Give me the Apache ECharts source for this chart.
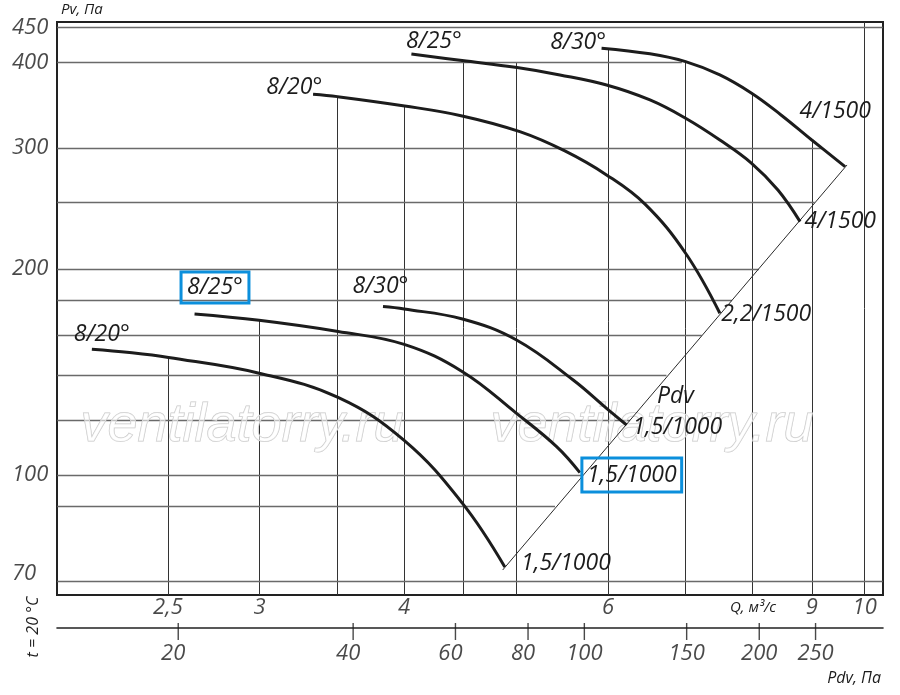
<!DOCTYPE html>
<html>
<head>
<meta charset="utf-8">
<title>Pv-Q</title>
<script src="https://cdn.jsdelivr.net/npm/echarts@6/dist/echarts.min.js"></script>
<style>
  html, body { margin: 0; padding: 0; background: #fff; }
  #chart { width: 900px; height: 695px; }
</style>
</head>
<body>
<div id="chart"></div>
<script>
;(function () {
  'use strict';

  var FONT = '"Open Sans", "Noto Sans", sans-serif';
  var INK = '#1c1c1c';
  var BLUE = '#0b8fdc';

  // axis ranges (Q, м³/с / Pv, Па / Pdv, Па)
  var qMin = 2.005, qMax = 10.37;
  var pMin = 66.8, pMax = 458.4;
  var pdvMin = 12.37, pdvMax = 326.6;

  // tick labels
  var qTicks = [2.5, 3, 4, 6, 9, 10];
  var qTickLabels = ['2,5', '3', '4', '6', '9', '10'];
  var pTicks = [70, 100, 200, 300, 400, 450];
  var pdvTicks = [20, 40, 60, 80, 100, 150, 200, 250];

  // grid lines and where they stop
  var qGrid    = [2.5,   3,     3.5,   4,     4.5,   5,   6,   7,     8,     9,     10];
  var qGridTop = [148.4, 168.2, 356.7, 345.7, 402.7, 400, 419, 401.2, 360.8, 308.3, pMax];
  var pGrid    = [70,   90,  100, 120,  140,  160,  180,  200, 250,  300,  400,  450];
  var pGridEnd = [qMax, 5.4, 5.7, 6.27, 6.74, 7.23, 7.68, 8.1, 9.05, 9.19, 6.95, qMax];

  // lower group, 1,5/1000
  var low20Q = [2.149, 2.316, 2.503, 2.997, 3.507, 4.0, 4.492, 4.887];
  var low20P = [152.6, 150.9, 148.4, 140.8, 129.8, 112.3, 90.9, 73.4];
  var low25Q = [2.636, 2.997, 3.507, 4.0, 4.492, 5.002, 5.417, 5.674];
  var low25P = [171.8, 168.2, 162.0, 155.1, 141.5, 123.0, 110.0, 100.8];
  var low30Q = [3.835, 4.0, 4.492, 5.002, 5.599, 5.983, 6.227];
  var low30P = [176.1, 174.7, 168.9, 157.4, 137.6, 125.1, 118.3];

  // upper group
  var up20Q = [3.337, 3.503, 4.004, 4.489, 5.035, 5.507, 5.983, 6.459, 7.002, 7.496];
  var up20P = [359.6, 356.7, 345.7, 334.3, 317.1, 297.2, 274.2, 248.5, 210.7, 172.2];
  var up25Q = [4.058, 4.489, 5.007, 5.453, 5.983, 6.523, 7.002, 7.496, 7.985, 8.414, 8.793];
  var up25P = [411.5, 402.7, 393.3, 383.7, 370.9, 352.7, 331.7, 308.3, 285.1, 260.6, 234.3];
  var up30Q = [5.924, 6.523, 7.002, 7.496, 7.985, 8.466, 9.0, 9.616];
  var up30P = [419.8, 411.9, 401.2, 383.7, 360.8, 335.4, 308.3, 281.9];

  // Pdv line
  var pdvLineQ = [4.866, 9.654];
  var pdvLineP = [72.65, 283.5];

  function textStyle(size) {
    return { fontFamily: FONT, fontStyle: 'italic', fontSize: size, color: INK };
  }

  function lab(text, dx, dy, align, boxed) {
    var l = {
      show: true,
      formatter: text,
      position: [dx, dy],
      align: align,
      verticalAlign: 'middle',
      fontFamily: FONT,
      fontStyle: 'italic',
      fontSize: 23,
      lineHeight: 27,
      color: INK
    };
    if (boxed) {
      l.borderColor = BLUE;
      l.borderWidth = 3;
      l.padding = boxed;
    }
    return l;
  }

  function curve(qs, ps, first, last) {
    var data = qs.map(function (q, i) {
      var item = { value: [q, ps[i]] };
      if (i === 0 && first) item.label = first;
      if (i === qs.length - 1 && last) item.label = last;
      return item;
    });
    return {
      type: 'line',
      data: data,
      smooth: 0.4,
      symbol: 'circle',
      symbolSize: 1,
      showSymbol: true,
      itemStyle: { color: 'rgba(0,0,0,0)' },
      lineStyle: { color: INK, width: 3 },
      label: { show: false },
      clip: false,
      silent: true,
      z: 10
    };
  }

  var gridLines = [];
  qGrid.forEach(function (q, i) {
    gridLines.push([
      { coord: [q, pMin * 1.0005], lineStyle: { color: '#333', width: 1, type: 'solid' } },
      { coord: [q, Math.min(qGridTop[i], pMax * 0.9995)] }
    ]);
  });
  pGrid.forEach(function (p, i) {
    gridLines.push([
      { coord: [qMin * 1.0005, p], lineStyle: { color: '#6a6a6a', width: 1.3, type: 'solid' } },
      { coord: [Math.min(pGridEnd[i], qMax * 0.9995), p] }
    ]);
  });

  var pdvLine = {
    type: 'line',
    data: pdvLineQ.map(function (q, i) { return [q, pdvLineP[i]]; }),
    showSymbol: false,
    lineStyle: { color: '#2a2a2a', width: 1 },
    silent: true,
    z: 9,
    markLine: {
      silent: true,
      symbol: ['none', 'none'],
      label: { show: false },
      lineStyle: { type: 'solid' },
      emphasis: { disabled: true },
      animation: false,
      z: 5,
      data: gridLines
    }
  };

  var qLabels = {
    type: 'scatter',
    data: qTicks.map(function (q, i) {
      return { value: [q, pMin], label: { formatter: qTickLabels[i] } };
    }),
    symbolSize: 1,
    itemStyle: { color: 'rgba(0,0,0,0)' },
    label: Object.assign({ show: true, position: 'bottom', distance: 1 }, textStyle(22)),
    clip: false,
    silent: true
  };

  var pLabels = {
    type: 'scatter',
    data: pTicks.map(function (p) {
      var item = { value: [qMin, p] };
      if (p === 70) item.label = { offset: [0, -7] };
      return item;
    }),
    symbolSize: 1,
    itemStyle: { color: 'rgba(0,0,0,0)' },
    label: Object.assign({
      show: true,
      position: [-44.5, 0.5],
      align: 'left',
      verticalAlign: 'middle',
      formatter: function (p) { return p.value[1]; }
    }, textStyle(22)),
    clip: false,
    silent: true
  };

  var pdvTickSeries = {
    type: 'scatter',
    xAxisIndex: 1,
    yAxisIndex: 1,
    data: pdvTicks.map(function (v) {
      var item = { value: [v, -3.5] };
      if (v < 100) item.label = { offset: [-5, 0] };
      return item;
    }),
    symbol: 'rect',
    symbolSize: [1.4, 17],
    itemStyle: { color: INK },
    label: Object.assign({
      show: true,
      position: 'bottom',
      distance: 3,
      formatter: function (p) { return p.value[0]; }
    }, textStyle(22)),
    clip: false,
    silent: true
  };

  var option = {
    animation: false,
    backgroundColor: '#fff',
    grid: [
      { left: 57, top: 22, width: 826, height: 573, show: true, borderColor: '#222', borderWidth: 2 },
      { left: 57, top: 620, width: 826, height: 20 }
    ],
    xAxis: [
      {
        type: 'log', gridIndex: 0, min: qMin, max: qMax,
        axisLine: { show: false }, axisTick: { show: false },
        axisLabel: { show: false }, splitLine: { show: false }
      },
      {
        type: 'log', gridIndex: 1, min: pdvMin, max: pdvMax,
        axisLine: { show: true, onZero: true, lineStyle: { color: '#222', width: 1.6 } },
        axisTick: { show: false }, axisLabel: { show: false }, splitLine: { show: false }
      }
    ],
    yAxis: [
      {
        type: 'log', gridIndex: 0, min: pMin, max: pMax,
        axisLine: { show: false }, axisTick: { show: false },
        axisLabel: { show: false }, splitLine: { show: false }
      },
      {
        type: 'value', gridIndex: 1, min: -12, max: 8, show: false
      }
    ],
    graphic: [
      { type: 'text', left: 80, top: 398, z: 7, silent: true,
        style: { text: 'ventilatorry.ru', font: 'italic 54px "Liberation Sans", Arial, sans-serif',
                 fill: 'rgba(255,255,255,0.55)', stroke: '#c6c6c6', lineWidth: 1 } },
      { type: 'text', left: 490, top: 398, z: 7, silent: true,
        style: { text: 'ventilatorry.ru', font: 'italic 54px "Liberation Sans", Arial, sans-serif',
                 fill: 'rgba(255,255,255,0.55)', stroke: '#c6c6c6', lineWidth: 1 } },
      { type: 'text', x: 61, y: 10, silent: true,
        style: { text: 'Pv, Па', font: 'italic 15px ' + FONT, fill: INK, verticalAlign: 'middle' } },
      { type: 'text', x: 730, y: 608, silent: true,
        style: { text: 'Q, м³/с', font: 'italic 15px ' + FONT, fill: INK, verticalAlign: 'middle' } },
      { type: 'text', x: 881, y: 678, silent: true,
        style: { text: 'Pdv, Па', font: 'italic 16px ' + FONT, fill: INK, align: 'right', verticalAlign: 'middle' } },
      { type: 'text', x: 33, y: 627, rotation: Math.PI / 2, silent: true,
        style: { text: 't = 20 °C', font: 'italic 16px ' + FONT, fill: INK, align: 'center', verticalAlign: 'middle' } },
      { type: 'text', x: 657, y: 396, z: 11, silent: true,
        style: { text: 'Pdv', font: 'italic 23px ' + FONT, fill: INK, verticalAlign: 'middle' } }
    ],
    series: [
      pdvLine,
      curve(low20Q, low20P, lab('8/20°', -17.5, -14.3, 'left'), lab('1,5/1000', 16.7, -2.7, 'left')),
      curve(low25Q, low25P, lab('8/25°', -13, -26, 'left', [2, 6, 2, 6]),
        lab('1,5/1000', 2.5, 3, 'left', [4, 5, 3, 5])),
      curve(low30Q, low30P, lab('8/30°', -30, -20, 'left'), lab('1,5/1000', 6.3, 3, 'left')),
      curve(up20Q, up20P, lab('8/20°', 9.7, -6.3, 'right'), lab('2,2/1500', 2, 2, 'left')),
      curve(up25Q, up25P, lab('8/25°', -5, -12.6, 'left'), lab('4/1500', 5, 0, 'left')),
      curve(up30Q, up30P, lab('8/30°', 5, -5, 'right'), lab('4/1500', -45, -54.7, 'left')),
      qLabels,
      pLabels,
      pdvTickSeries
    ]
  };

  var chart = echarts.init(document.getElementById('chart'));
  chart.setOption(option);
})();
</script>
</body>
</html>
